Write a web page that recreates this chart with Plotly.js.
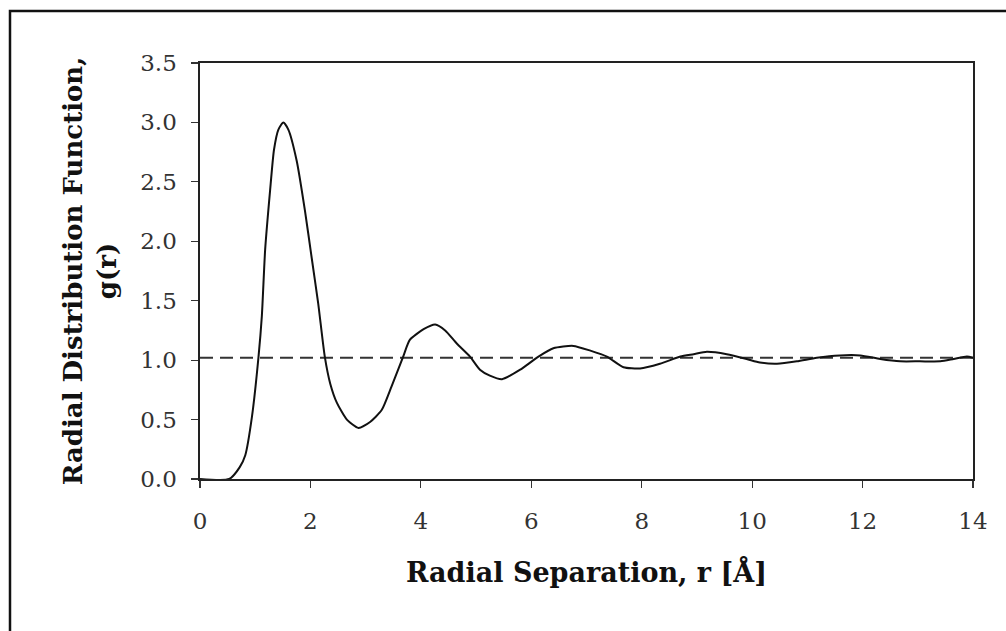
<!DOCTYPE html>
<html>
<head>
<meta charset="utf-8">
<script src="https://cdn.plot.ly/plotly-3.0.1.min.js"></script>
<style>
html,body{margin:0;padding:0;background:#fff;}
#chart{width:1006px;height:631px;}
</style>
</head>
<body>
<div id="chart"></div>
<script>
// Radial separation r [Å]
const rValues = [0, 0.53, 0.72, 0.82, 0.94, 1.06, 1.12, 1.18, 1.27, 1.34, 1.42, 1.51, 1.60, 1.75, 1.90, 2.02, 2.14, 2.26, 2.36, 2.48, 2.66, 2.87, 3.08, 3.29, 3.47, 3.68, 3.80, 4.05, 4.26, 4.44, 4.65, 4.89, 5.07, 5.25, 5.47, 5.80, 6.13, 6.40, 6.76, 7.07, 7.37, 7.67, 7.97, 8.33, 8.70, 8.94, 9.18, 9.54, 9.90, 10.14, 10.45, 10.81, 11.17, 11.59, 11.96, 12.32, 12.68, 13.04, 13.41, 13.65, 13.89, 14.0];
// Radial distribution function g(r)
const gValues = [0, 0, 0.10, 0.20, 0.52, 1.03, 1.37, 1.93, 2.43, 2.77, 2.94, 3.00, 2.94, 2.68, 2.26, 1.87, 1.48, 1.03, 0.80, 0.64, 0.50, 0.43, 0.48, 0.58, 0.78, 1.03, 1.17, 1.26, 1.30, 1.25, 1.14, 1.03, 0.92, 0.87, 0.84, 0.92, 1.03, 1.10, 1.12, 1.08, 1.03, 0.94, 0.93, 0.97, 1.03, 1.05, 1.07, 1.05, 1.01, 0.98, 0.97, 0.99, 1.02, 1.04, 1.04, 1.01, 0.99, 0.99, 0.99, 1.01, 1.03, 1.02];
// Reference line (ideal gas limit)
const refX = [0, 14];
const refY = [1.02, 1.02];
const xTickVals = [0, 2, 4, 6, 8, 10, 12, 14];
const yTickVals = [0, 0.5, 1.0, 1.5, 2.0, 2.5, 3.0, 3.5];
const yTickText = ['0.0', '0.5', '1.0', '1.5', '2.0', '2.5', '3.0', '3.5'];

const serif = 'DejaVu Serif, Liberation Serif, serif';

const traces = [
  {
    x: refX, y: refY, mode: 'lines', type: 'scatter',
    line: {color: '#333', width: 2, dash: '13px,7px'},
    hoverinfo: 'skip', showlegend: false
  },
  {
    x: rValues, y: gValues, mode: 'lines', type: 'scatter',
    line: {color: '#111', width: 2, shape: 'spline', smoothing: 0.6},
    showlegend: false
  }
];

const layout = {
  width: 1006, height: 631,
  margin: {l: 200, r: 33, t: 63, b: 152, pad: 0},
  paper_bgcolor: '#fff', plot_bgcolor: '#fff',
  font: {family: serif, color: '#222', size: 23},
  showlegend: false,
  xaxis: {
    range: [0, 14], tickvals: xTickVals, ticks: 'outside', ticklen: 7, tickwidth: 1.2, tickcolor: '#333',
    showline: true, linecolor: '#222', linewidth: 1.6, mirror: true, showgrid: false, zeroline: false,
    tickfont: {family: serif, size: 23, color: '#333'}, ticklabelstandoff: 14,
    title: {text: '<b>Radial Separation, r [Å]</b>', font: {family: serif, size: 27, color: '#111'}, standoff: 30},
    automargin: false
  },
  yaxis: {
    range: [0, 3.5], tickvals: yTickVals, ticktext: yTickText, ticks: 'outside', ticklen: 7, tickwidth: 1.2, tickcolor: '#333',
    showline: true, linecolor: '#222', linewidth: 1.6, mirror: true, showgrid: false, zeroline: false,
    tickfont: {family: serif, size: 23, color: '#333'}, ticklabelstandoff: 10,
    title: {text: '<b>Radial Distribution Function,<br>g(r)</b>', font: {family: serif, size: 26, color: '#111'}, standoff: 16},
    automargin: false
  },
  shapes: [
    {type: 'rect', xref: 'paper', yref: 'paper', x0: -0.2458, x1: 1.06, y0: -0.4, y1: 1.125,
     line: {color: '#111', width: 2.5}, fillcolor: 'rgba(0,0,0,0)', layer: 'below'}
  ]
};

Plotly.newPlot('chart', traces, layout, {displayModeBar: false, staticPlot: true});
</script>
</body>
</html>
